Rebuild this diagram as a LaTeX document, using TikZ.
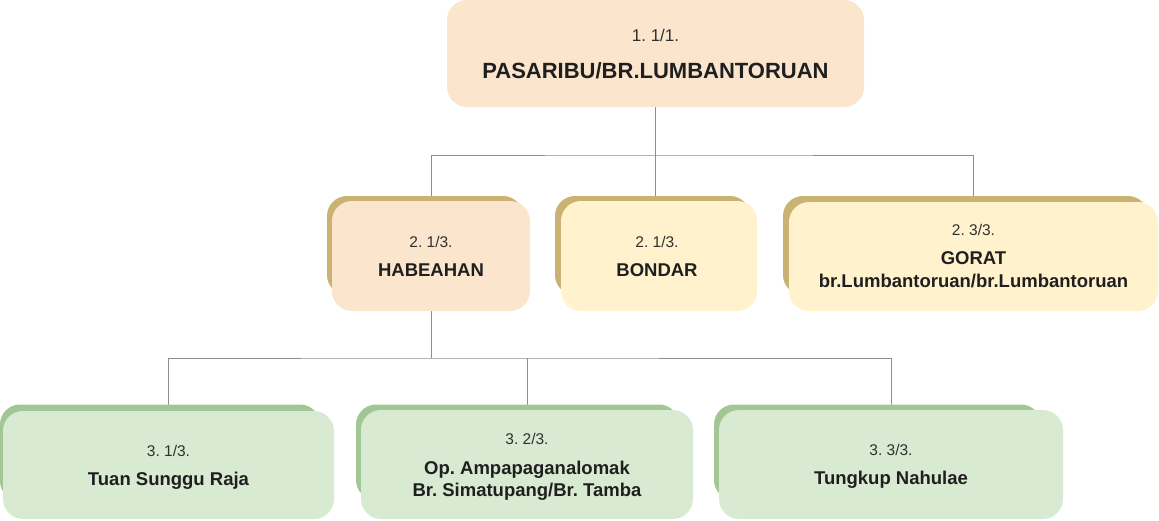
\documentclass[tikz,border=0pt]{standalone}
\usepackage{fontspec}
\setmainfont{Liberation Sans}
\usetikzlibrary{calc}
\pgfdeclarelayer{background}
\pgfsetlayers{background,main}
\definecolor{peach}{HTML}{FCE5CD}
\definecolor{cream}{HTML}{FFF2CC}
\definecolor{mint}{HTML}{D9EAD3}
\definecolor{gold}{HTML}{C9B272}
\definecolor{sage}{HTML}{A2C794}
\definecolor{linkgray}{HTML}{8E8E8E}
\definecolor{ink}{HTML}{1F1F1F}
\definecolor{subink}{HTML}{303030}
\tikzset{
  box/.style={rectangle, rounded corners=20pt, inner sep=0pt, draw=none},
  rootbox/.style={box, fill=peach},
  peachbox/.style={box, fill=peach},
  creambox/.style={box, fill=cream},
  mintbox/.style={box, fill=mint},
  goldback/.style={fill=gold, rounded corners=20pt},
  sageback/.style={fill=sage, rounded corners=20pt},
  subtext/.style={font=\fontsize{15.5}{18}\selectfont, text=subink, anchor=base, inner sep=0pt},
  rootsub/.style={subtext, font=\fontsize{17}{20}\selectfont},
  nametext/.style={font=\fontsize{18.5}{22}\selectfont\bfseries, text=ink, anchor=base, inner sep=0pt},
  rootname/.style={nametext, font=\fontsize{22}{26}\selectfont\bfseries},
  link/.style={draw=linkgray, line width=1pt},
}
\begin{document}
\frenchspacing
\begin{tikzpicture}[x=1pt,y=-1pt]
\useasboundingbox (0,0) rectangle (1159,520);

% boxes
\node[rootbox, minimum width=417pt, minimum height=107pt] (top) at (655.5,53.5) {};
\node[peachbox, minimum width=198pt, minimum height=110pt] (hab) at (431,256) {};
\node[creambox, minimum width=196pt, minimum height=110pt] (bon) at (659,256) {};
\node[creambox, minimum width=369pt, minimum height=109pt] (gor) at (973.5,256.5) {};
\node[mintbox, minimum width=331pt, minimum height=108pt] (tuan) at (168.5,465) {};
\node[mintbox, minimum width=332pt, minimum height=109pt] (op) at (527,464.5) {};
\node[mintbox, minimum width=344pt, minimum height=109pt] (tung) at (891,464.5) {};

% texts
\node[rootsub] (top-a) at (655.5,41) {1. 1/1.};
\node[rootname] (top-b) at (655.5,78) {PASARIBU/BR.LUMBANTORUAN};

\node[subtext] (hab-a) at ($(hab.center)+(0,-8.8)$) {2. 1/3.};
\node[nametext] (hab-b) at ($(hab.center)+(0,20.6)$) {HABEAHAN};

\node[subtext] (bon-a) at ($(bon.center)+(-2,-8.8)$) {2. 1/3.};
\node[nametext] (bon-b) at ($(bon.center)+(-2,20.6)$) {BONDAR};

\node[subtext] (gor-a) at ($(gor.center)+(0,-21)$) {2. 3/3.};
\node[nametext] (gor-b) at ($(gor.center)+(0,8.1)$) {GORAT};
\node[nametext] (gor-c) at ($(gor.center)+(0,30.8)$) {br.Lumbantoruan/br.Lumbantoruan};

\node[subtext] (tuan-a) at ($(tuan.center)+(0,-8.8)$) {3. 1/3.};
\node[nametext] (tuan-b) at ($(tuan.center)+(0,20)$) {Tuan Sunggu Raja};

\node[subtext] (op-a) at ($(op.center)+(0,-20)$) {3. 2/3.};
\node[nametext] (op-b) at ($(op.center)+(0,9.5)$) {Op. Ampapaganalomak};
\node[nametext] (op-c) at ($(op.center)+(0,31.5)$) {Br. Simatupang/Br. Tamba};

\node[subtext] (tung-a) at ($(tung.center)+(0,-8.8)$) {3. 3/3.};
\node[nametext] (tung-b) at ($(tung.center)+(0,20)$) {Tungkup Nahulae};

% connectors and back tabs
\coordinate (j1) at (655.5,155);
\coordinate (j2) at (431,358);
\begin{pgfonlayer}{background}
\draw[link] (top.south) -- (top.south |- bon.north);
\draw[link] (hab.north) |- (j1) -| (gor.north);
\draw[link] (hab.south) -- (j2);
\draw[link] (tuan.north) |- (j2) -| (tung.north);
\draw[link] (op.north) -- (op.north |- j2);
% back tabs
\fill[goldback] (327,196) rectangle (523,295);
\fill[goldback] (555,196) rectangle (750,295);
\fill[goldback] (783,196) rectangle (1148,295);
\fill[sageback] (0,404.5) rectangle (320,501);
\fill[sageback] (356,404.5) rectangle (679,500);
\fill[sageback] (714,404.5) rectangle (1041,500);
\end{pgfonlayer}
\end{tikzpicture}
\end{document}
